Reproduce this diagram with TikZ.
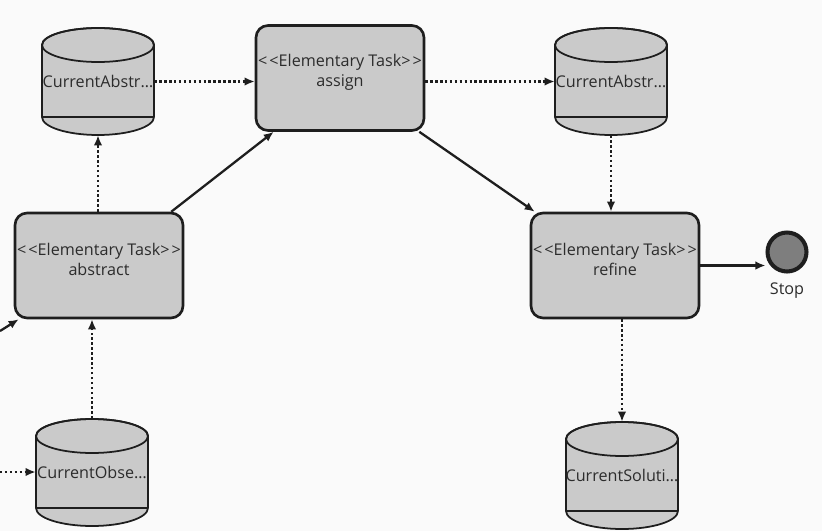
\documentclass[tikz,border=0pt]{standalone}
\usepackage{fontspec}
\setmainfont{Open Sans}
\usetikzlibrary{positioning}
\usetikzlibrary{arrows.meta}
\definecolor{paper}{HTML}{FAFAFA}
\definecolor{boxgray}{HTML}{CACACA}
\definecolor{stopgray}{HTML}{7E7E7E}
\definecolor{linegray}{HTML}{1E1E1E}
\definecolor{txtgray}{HTML}{2C2C2C}

\begin{document}
\begin{tikzpicture}[x=0.02cm, y=-0.02cm,
    task/.style={draw=linegray, line width=1.5pt, fill=boxgray, rounded corners=0.24cm,
        minimum width=3.36cm, minimum height=2.1cm, inner sep=0pt},
    tasktext/.style={align=center, text=txtgray, inner sep=0pt,
        font=\fontsize{9.2}{11.4}\selectfont},
    store/.style={minimum width=2.24cm, minimum height=2.14cm, inner sep=0pt,
        text=txtgray, font=\fontsize{9.2}{11.4}\selectfont},
    flow/.style={-{Latex[length=2mm,width=1.7mm]}, line width=1.3pt, draw=linegray},
    dataflow/.style={flow, dash pattern=on 1.4pt off 1.4pt}]

    \fill[paper] (0,0) rectangle (822,531);
    \useasboundingbox (0,0) rectangle (822,531);

    % data stores
    \foreach \name/\cx/\cy/\lbl in {absIn/98/28/CurrentAbstr\ldots,
            absOut/611/28/CurrentAbstr\ldots,
            obs/92/419/CurrentObse\ldots,
            sol/622/422/CurrentSoluti\ldots}{
        \filldraw[fill=boxgray, draw=linegray, line width=1pt]
            (\cx-56,\cy+17) -- (\cx-56,\cy+89)
            arc[start angle=180, end angle=360, x radius=1.12cm, y radius=0.36cm]
            -- (\cx+56,\cy+17)
            arc[start angle=0, end angle=180, x radius=1.12cm, y radius=0.34cm] -- cycle;
        \draw[linegray, line width=1pt] (\cx,\cy+17) ellipse[x radius=1.12cm, y radius=0.34cm];
        \draw[linegray, line width=1pt] (\cx-56,\cy+89) -- (\cx+56,\cy+89);
        \node[store] (\name) at (\cx,\cy+53.5) {\lbl};
    }

    % tasks
    \draw (99,265.5) node[task] (abstract) {};
    \node[tasktext] (abstractText) at ([yshift=0.12cm]abstract.center)
        {<\kern1.2pt<Elementary Task>\kern1.2pt>\\abstract};

    \draw (340,78) node[task] (assign) {};
    \node[tasktext] (assignText) at ([yshift=0.12cm]assign.center)
        {<\kern1.2pt<Elementary Task>\kern1.2pt>\\assign};

    \draw (615,265.5) node[task] (refine) {};
    \node[tasktext] (refineText) at ([yshift=0.12cm]refine.center)
        {<\kern1.2pt<Elementary Task>\kern1.2pt>\\refine};

    \draw (787,252) node[circle, draw=linegray, line width=2.3pt, fill=stopgray, minimum size=0.78cm,
        label={[tasktext, label distance=0.17cm]below:Stop}] (stop) {};

    \coordinate (fromLeft) at (0,331);
    \coordinate (obsLeft) at (0,472);

    % control flow
    \draw[flow] (fromLeft) -- ([xshift=0.1cm]abstract.south west);
    \draw[flow] ([xshift=-0.26cm]abstract.north east) -- ([xshift=0.38cm]assign.south west);
    \draw[flow] ([xshift=-0.12cm]assign.south east) -- ([xshift=0.1cm]refine.north west);
    \draw[flow] (refine.east) -- (refine.east -| stop.west);

    % data flow
    \draw[dataflow] (obsLeft) -- (obsLeft -| obs.west);
    \draw[dataflow] (obs.north) -- (abstract.south -| obs.north);
    \draw[dataflow] (abstract.north -| absIn.south) -- (absIn.south);
    \draw[dataflow] (absIn.east) -- (absIn.east -| assign.west);
    \draw[dataflow] (assign.east |- absOut.west) -- (absOut.west);
    \draw[dataflow] (absOut.south) -- (refine.north -| absOut.south);
    \draw[dataflow] (refine.south -| sol.north) -- (sol.north);

\end{tikzpicture}
\end{document}
